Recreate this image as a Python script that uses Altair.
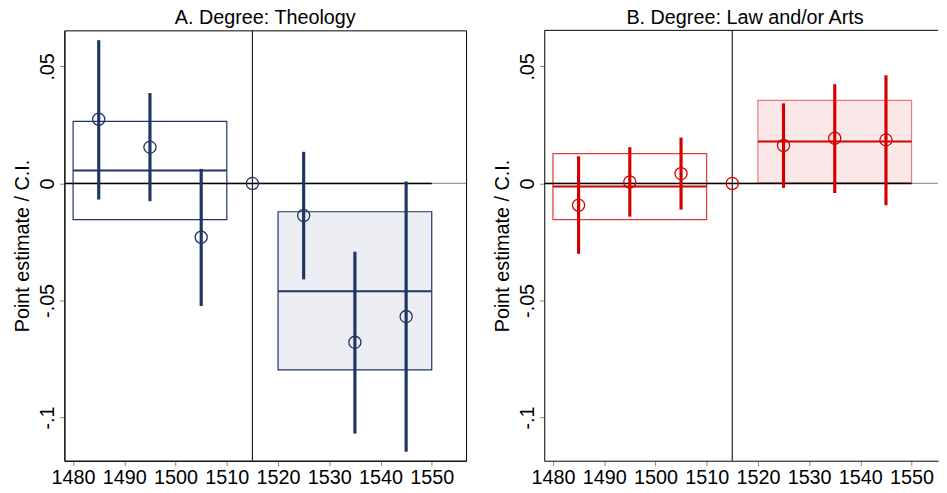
import altair as alt
import pandas as pd

# ---------------- data ----------------
years = [1485, 1495, 1505, 1515, 1525, 1535, 1545]
theo_est = [0.0274, 0.0155, -0.0230, 0.0, -0.0137, -0.0679, -0.0569]
theo_lo = [-0.0069, -0.0076, -0.0524, None, -0.0410, -0.1069, -0.1147]
theo_hi = [0.0612, 0.0386, 0.0062, None, 0.0135, -0.0292, 0.0008]

law_est = [-0.0093, 0.0006, 0.0042, 0.0, 0.0162, 0.0193, 0.0186]
law_lo = [-0.0301, -0.0142, -0.0112, None, -0.0019, -0.0041, -0.0093]
law_hi = [0.0116, 0.0155, 0.0196, None, 0.0342, 0.0424, 0.0462]

box_start = [1480, 1520]
box_end = [1510, 1550]
theo_box_lo = [-0.0155, -0.0797]
theo_box_hi = [0.0265, -0.0121]
theo_box_mean = [0.0055, -0.0461]
law_box_lo = [-0.0155, 0.0003]
law_box_hi = [0.0127, 0.0355]
law_box_mean = [-0.0013, 0.0179]

cutoff_year = 1515
zero_line_end = 1550

x_ticks = [1480, 1490, 1500, 1510, 1520, 1530, 1540, 1550]
y_ticks = [-0.1, -0.05, 0, 0.05]
y_tick_labels = ["-.1", "-.05", "0", ".05"]

panel_titles = ["A. Degree: Theology", "B. Degree: Law and/or Arts"]

X_MIN, X_MAX = 1478.3, 1556.7
Y_MIN, Y_MAX = -0.1185, 0.0654

FONT = "Liberation Sans"
FS = 20
NAVY = "#1f3564"
RED = "#d40000"
W_A = 406

label_expr = " : ".join(
    [f"datum.value == {v} ? '{l}'" for v, l in zip(y_ticks, y_tick_labels)] + ["''"]
)

PX_PER_YEAR = W_A / (X_MAX - X_MIN)


def panel(title, est, lo, hi, blo, bhi, bmean, color, box_strokes, box_fills,
          box_opac, width, full_border):
    x_max = X_MIN + width / PX_PER_YEAR if not full_border else X_MAX
    xs = alt.Scale(domain=[X_MIN, x_max], nice=False, zero=False)
    ys = alt.Scale(domain=[Y_MIN, Y_MAX], nice=False, zero=False)
    xaxis = alt.Axis(values=x_ticks, format="d", title=None, grid=False,
                     labelFontSize=FS, labelFont=FONT, labelColor="#000",
                     tickColor="#888", tickSize=5, labelPadding=2,
                     domain=True, domainColor="#000", labelFlush=False,
                     labelOverlap=False)
    yaxis = alt.Axis(values=y_ticks, labelExpr=label_expr,
                     title="Point estimate / C.I.", titleFont=FONT,
                     titleFontSize=FS, titleFontWeight="normal", titleColor="#000",
                     titlePadding=5,
                     labelAngle=-90, labelAlign="center", labelBaseline="bottom",
                     labelFontSize=FS, labelFont=FONT, labelColor="#000",
                     labelPadding=2, tickColor="#888", tickSize=5, grid=False,
                     labelOverlap=False, labelFlush=False,
                     domain=True, domainColor="#000")

    def X(f):
        return alt.X(f, scale=xs, axis=xaxis, title=None)

    def Y(f):
        return alt.Y(f, scale=ys, axis=yaxis, title="Point estimate / C.I.")

    pts = pd.DataFrame({"year": years, "est": est, "lo": lo, "hi": hi})
    ci = pts.dropna()
    boxes = pd.DataFrame({"x0": box_start, "x1": box_end, "lo": blo, "hi": bhi,
                          "mean": bmean, "stroke": box_strokes,
                          "fill": box_fills, "op": box_opac})
    zero = pd.DataFrame({"x0": [X_MIN], "x1": [zero_line_end], "y": [0.0]})
    cut = pd.DataFrame({"x": [cutoff_year]})
    ttl = pd.DataFrame({"t": [title]})

    grid0 = alt.Chart(zero).mark_rule(color="#999", strokeWidth=1.3).encode(
        y=Y("y:Q"),
    )
    rect = alt.Chart(boxes).mark_rect(strokeWidth=1.2).encode(
        x=X("x0:Q"), x2="x1:Q",
        y=Y("lo:Q"), y2="hi:Q",
        fill=alt.Fill("fill:N", scale=None),
        stroke=alt.Stroke("stroke:N", scale=None),
        fillOpacity=alt.FillOpacity("op:Q", scale=None),
    )
    mean = alt.Chart(boxes).mark_rule(strokeWidth=2, color=color).encode(
        x=X("x0:Q"), x2="x1:Q", y=Y("mean:Q"),
    )
    zline = alt.Chart(zero).mark_rule(color="#000", strokeWidth=1.5).encode(
        x=X("x0:Q"), x2="x1:Q", y=Y("y:Q"),
    )
    vline = alt.Chart(cut).mark_rule(color="#222", strokeWidth=1.2).encode(
        x=X("x:Q"),
    )
    bars = alt.Chart(ci).mark_rule(strokeWidth=3.2, color=color).encode(
        x=X("year:Q"), y=Y("lo:Q"), y2="hi:Q",
    )
    circ = alt.Chart(pts).mark_point(shape="circle", filled=False, size=150,
                                     strokeWidth=1.3, color=color, opacity=1).encode(
        x=X("year:Q"), y=Y("est:Q"),
    )
    head = alt.Chart(ttl).mark_text(font=FONT, fontSize=FS, color="#000",
                                    align="center", baseline="middle").encode(
        text="t:N", x=alt.value(W_A / 2), y=alt.value(-12),
    )
    layers = [grid0, rect, mean, zline, vline, bars, circ, head]
    if not full_border:
        top = alt.Chart(zero).mark_rule(color="#000", strokeWidth=1).encode(
            x=alt.value(0), x2=alt.value(width), y=alt.value(0))
        layers.append(top)
    ch = alt.layer(*layers).properties(width=width, height=435)
    if full_border:
        ch = ch.properties(view=alt.ViewConfig(stroke="#000", strokeWidth=1))
    else:
        ch = ch.properties(view=alt.ViewConfig(stroke=None))
    return ch


pa = panel(panel_titles[0], theo_est, theo_lo, theo_hi,
           theo_box_lo, theo_box_hi, theo_box_mean, NAVY,
           [NAVY, NAVY], ["#ffffff", "#eceef3"], [0.0, 1.0], W_A, True)
pb = panel(panel_titles[1], law_est, law_lo, law_hi,
           law_box_lo, law_box_hi, law_box_mean, RED,
           ["#e03a3a", "#e57c7c"], ["#ffffff", "#fbe9ea"], [0.0, 1.0], 398, False)

chart = alt.hconcat(pa, pb, spacing=25).properties(
    padding={"left": 4, "top": -3, "right": 0, "bottom": 0},
    background="white",
).configure_axis(labelFont=FONT, titleFont=FONT)

chart.save("out.html", embed_options={"renderer": "svg", "actions": False})
